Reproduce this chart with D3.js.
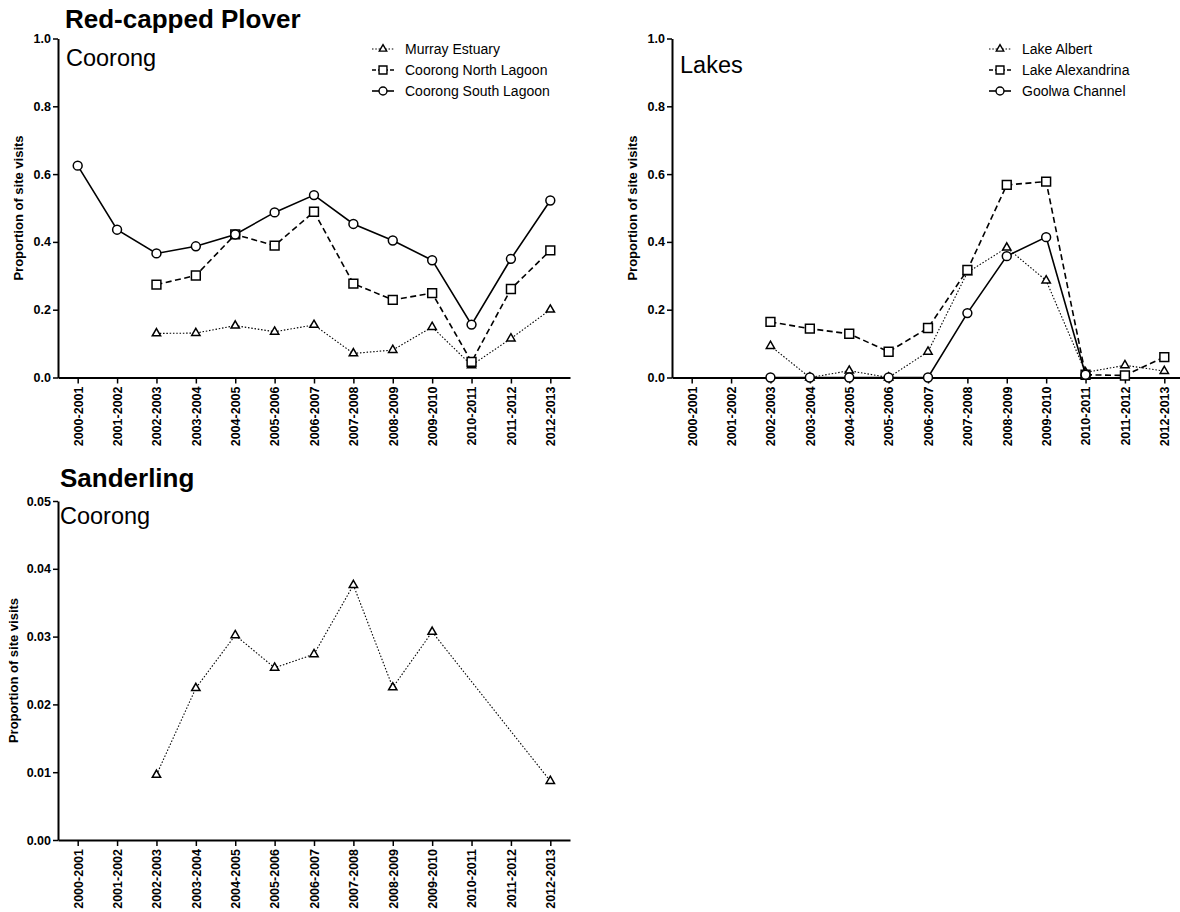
<!DOCTYPE html>
<html>
<head>
<meta charset="utf-8">
<script src="https://cdn.jsdelivr.net/npm/d3@7"></script>
<style>
  html, body { margin: 0; padding: 0; background: #fff; }
  svg { display: block; font-family: "Liberation Sans", Arial, Helvetica, sans-serif; }
  .tick text { font-weight: bold; fill: #000; }
</style>
</head>
<body>
<svg id="chart" width="1180" height="912"></svg>
<script>
// Survey seasons on the x axis
const seasons = ["2000-2001", "2001-2002", "2002-2003", "2003-2004", "2004-2005", "2005-2006",
  "2006-2007", "2007-2008", "2008-2009", "2009-2010", "2010-2011", "2011-2012", "2012-2013"];

// Red-capped Plover, Coorong sites (proportion of site visits)
const murrayEstuary   = [null, null, 0.130, 0.131, 0.153, 0.135, 0.155, 0.071, 0.081, 0.149, 0.036, 0.115, 0.200];
const coorongNorth    = [null, null, 0.274, 0.301, 0.422, 0.389, 0.489, 0.277, 0.229, 0.249, 0.046, 0.261, 0.375];
const coorongSouth    = [0.625, 0.436, 0.366, 0.387, 0.422, 0.487, 0.538, 0.453, 0.404, 0.346, 0.156, 0.350, 0.522];

// Red-capped Plover, Lakes sites
const lakeAlbert      = [null, null, 0.093, 0.000, 0.020, 0.000, 0.076, 0.310, 0.383, 0.286, 0.015, 0.036, 0.019];
const lakeAlexandrina = [null, null, 0.164, 0.144, 0.129, 0.076, 0.146, 0.317, 0.568, 0.578, 0.008, 0.006, 0.060];
const goolwaChannel   = [null, null, 0.000, 0.000, 0.000, 0.000, 0.000, 0.190, 0.358, 0.414, 0.008, null, null];

// Sanderling, Coorong
const sanderlingCoorong = [null, null, 0.0096, 0.0224, 0.0302, 0.0254, 0.0274, 0.0376, 0.0225, 0.0307, null, null, 0.0087];

// Axis tick values
const ticksPlover = [0, 0.2, 0.4, 0.6, 0.8, 1.0];
const ticksSanderling = [0, 0.01, 0.02, 0.03, 0.04, 0.05];

const yTitle = "Proportion of site visits";

const svg = d3.select("#chart");

// Marker and line style per series type
const styles = {
  triangle: { symbol: d3.symbolTriangle, size: 30, dash: "1.5,1.8", width: 1.1 },
  square:   { symbol: d3.symbolSquare,   size: 78, dash: "6,3.5",  width: 1.6 },
  circle:   { symbol: d3.symbolCircle,   size: 62, dash: null,     width: 1.6 }
};

function drawPanel(p) {
  const g = svg.append("g");
  const x = d3.scalePoint().domain(seasons).range([p.x0, p.x1]).padding(0.5);
  const y = d3.scaleLinear().domain([0, p.yMax]).range([p.yBottom, p.yTop]);

  // y axis
  const yAxis = g.append("g")
    .attr("transform", `translate(${p.x0},0)`)
    .call(d3.axisLeft(y).tickValues(p.ticks).tickFormat(d3.format(p.fmt))
      .tickSize(5).tickSizeOuter(0).tickPadding(2));
  yAxis.select(".domain").attr("stroke-width", 2).attr("stroke", "#000");
  yAxis.selectAll(".tick line").attr("stroke-width", 1.5).attr("stroke", "#000");
  yAxis.selectAll(".tick text").style("font-size", "12.5px");

  // x axis with rotated season labels
  const xAxis = g.append("g")
    .attr("transform", `translate(0,${p.yBottom})`)
    .call(d3.axisBottom(x).tickSize(6).tickSizeOuter(0));
  xAxis.select(".domain").attr("stroke-width", 2).attr("stroke", "#000");
  xAxis.selectAll(".tick line").attr("stroke-width", 1.5).attr("stroke", "#000");
  xAxis.selectAll(".tick text")
    .style("font-size", "12.5px")
    .attr("transform", "rotate(-90)")
    .attr("x", -9).attr("y", 0).attr("dy", "0.35em")
    .style("text-anchor", "end");

  // y axis title
  g.append("text")
    .attr("transform", `translate(${p.titleX},${(p.yTop + p.yBottom) / 2}) rotate(-90)`)
    .attr("text-anchor", "middle")
    .style("font-size", "13px").style("font-weight", "bold")
    .text(yTitle);

  // panel heading and sub-heading
  if (p.heading) {
    g.append("text").attr("x", p.headingX).attr("y", p.headingY)
      .style("font-size", "26px").style("font-weight", "bold").text(p.heading);
  }
  g.append("text").attr("x", p.subX).attr("y", p.subY)
    .style("font-size", "23.5px").text(p.sub);

  // series: line then markers, in order
  p.series.forEach(s => {
    const st = styles[s.shape];
    const pts = s.values.map((v, i) => ({ season: seasons[i], v })).filter(d => d.v !== null);
    g.append("path")
      .datum(pts)
      .attr("fill", "none").attr("stroke", "#000")
      .attr("stroke-width", st.width)
      .attr("stroke-dasharray", st.dash)
      .attr("d", d3.line().x(d => x(d.season)).y(d => y(d.v)));
    g.selectAll(null).data(pts).enter().append("path")
      .attr("transform", d => `translate(${x(d.season)},${y(d.v)})`)
      .attr("d", d3.symbol(st.symbol, st.size)())
      .attr("fill", "#fff").attr("stroke", "#000").attr("stroke-width", 1.5);
  });

  // legend
  if (p.legendX !== undefined) {
    p.series.forEach((s, i) => {
      const st = styles[s.shape];
      const ly = p.legendY + i * 21;
      const lg = g.append("g").attr("transform", `translate(${p.legendX},${ly})`);
      lg.append("line").attr("x1", -11).attr("x2", 11).attr("y1", 0).attr("y2", 0)
        .attr("stroke", "#000").attr("stroke-width", st.width)
        .attr("stroke-dasharray", st.dash ? (s.shape === "square" ? "4,2" : st.dash) : null);
      lg.append("path").attr("d", d3.symbol(st.symbol, st.size * 0.8)())
        .attr("fill", "#fff").attr("stroke", "#000").attr("stroke-width", 1.4);
      lg.append("text").attr("x", 22).attr("y", 0).attr("dy", "0.35em")
        .style("font-size", "14px").text(s.name);
    });
  }
}

drawPanel({
  x0: 58, x1: 570, yTop: 38.5, yBottom: 377.5, yMax: 1.0,
  ticks: ticksPlover, fmt: ".1f", titleX: 23,
  heading: "Red-capped Plover", headingX: 65, headingY: 28,
  sub: "Coorong", subX: 66, subY: 66,
  legendX: 383, legendY: 49,
  series: [
    { name: "Murray Estuary", shape: "triangle", values: murrayEstuary },
    { name: "Coorong North Lagoon", shape: "square", values: coorongNorth },
    { name: "Coorong South Lagoon", shape: "circle", values: coorongSouth }
  ]
});

drawPanel({
  x0: 672, x1: 1184, yTop: 38.5, yBottom: 377.5, yMax: 1.0,
  ticks: ticksPlover, fmt: ".1f", titleX: 637,
  heading: null,
  sub: "Lakes", subX: 680, subY: 73,
  legendX: 1000, legendY: 49,
  series: [
    { name: "Lake Albert", shape: "triangle", values: lakeAlbert },
    { name: "Lake Alexandrina", shape: "square", values: lakeAlexandrina },
    { name: "Goolwa Channel", shape: "circle", values: goolwaChannel }
  ]
});

drawPanel({
  x0: 58, x1: 570, yTop: 501, yBottom: 840, yMax: 0.05,
  ticks: ticksSanderling, fmt: ".2f", titleX: 18,
  heading: "Sanderling", headingX: 60, headingY: 487,
  sub: "Coorong", subX: 60, subY: 524,
  series: [
    { name: "Coorong", shape: "triangle", values: sanderlingCoorong }
  ]
});
</script>
</body>
</html>
